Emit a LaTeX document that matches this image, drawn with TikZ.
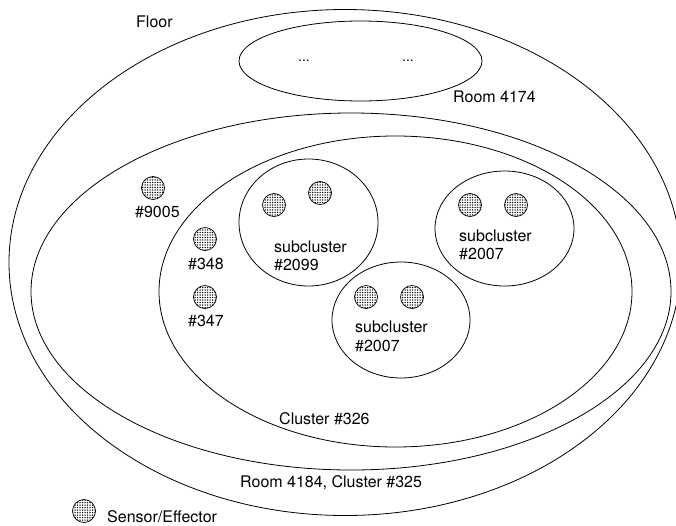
\documentclass[tikz,border=0pt]{standalone}
\usepackage{fontspec}
\setmainfont{TeX Gyre Heros}
\usetikzlibrary{shapes.geometric,patterns}
\pgfdeclarepatternformonly{finedots}{\pgfqpoint{-1.25pt}{-1.25pt}}{\pgfqpoint{1.25pt}{1.25pt}}{\pgfqpoint{2.5pt}{2.5pt}}{\pgfpathcircle{\pgfqpoint{0pt}{0pt}}{0.75pt}\pgfusepath{fill}}
\tikzset{
 x=1pt,y=-1pt,
 region/.style={draw=black,ellipse,inner sep=0pt,line width=0.8pt},
 sensor/.style={draw=black,circle,inner sep=0pt,minimum size=23pt,line width=0.7pt,pattern=finedots,pattern color=black},
 lbl/.style={font=\fontsize{16}{18.5}\selectfont,inner sep=0pt,anchor=base west,align=left}
}
\begin{document}
\begin{tikzpicture}
\useasboundingbox (0,0) rectangle (676,525);
\clip (0,0) rectangle (676,525);
\node[region,minimum width=672pt,minimum height=506pt] (floor) at (345,262.5) {};
\node[region,minimum width=640pt,minimum height=357pt] (room) at (351,291.5) {};
\node[region,minimum width=473pt,minimum height=311pt] (cluster) at (395.5,291.5) {};
\node[region,minimum width=243pt,minimum height=80pt] (room2) at (360.5,61) {};
\node[region,minimum width=139pt,minimum height=127pt] (sub1) at (308.5,222.5) {};
\node[region,minimum width=139pt,minimum height=115pt] (sub2) at (504.5,228.5) {};
\node[region,minimum width=138pt,minimum height=116pt] (sub3) at (401,320) {};
\node[sensor] (s9005) at (153,188) {};
\node[sensor] (s348) at (205,239) {};
\node[sensor] (s347) at (205,297) {};
\node[sensor] (a1) at (274,205) {};
\node[sensor] (a2) at (320,193) {};
\node[sensor] (b1) at (470,205) {};
\node[sensor] (b2) at (516,205) {};
\node[sensor] (c1) at (366,297) {};
\node[sensor] (c2) at (412,297) {};
\node[sensor] (legend) at (84,511) {};
\node[lbl] (t1) at (136,27) {Floor};
\node[lbl,font=\fontsize{14}{16}\selectfont] (t2) at (298,61) {...};
\node[lbl,font=\fontsize{14}{16}\selectfont] (t3) at (402,61) {...};
\node[lbl] (t4) at (453,102) {Room 4174};
\node[lbl] (t5) at (135,217) {\#9005};
\node[lbl] (t6) at (188,269) {\#348};
\node[lbl] (t7) at (188,326) {\#347};
\node[lbl] (t8) at (274,270.5) {subcluster\\\#2099};
\node[lbl] (t9) at (459,259.5) {subcluster\\\#2007};
\node[lbl] (t10) at (355,351) {subcluster\\\#2007};
\node[lbl] (t11) at (279,424) {Cluster \#326};
\node[lbl] (t12) at (240,487) {Room 4184, Cluster \#325};
\node[lbl] (t13) at (107,522) {Sensor/Effector};
\end{tikzpicture}
\end{document}
